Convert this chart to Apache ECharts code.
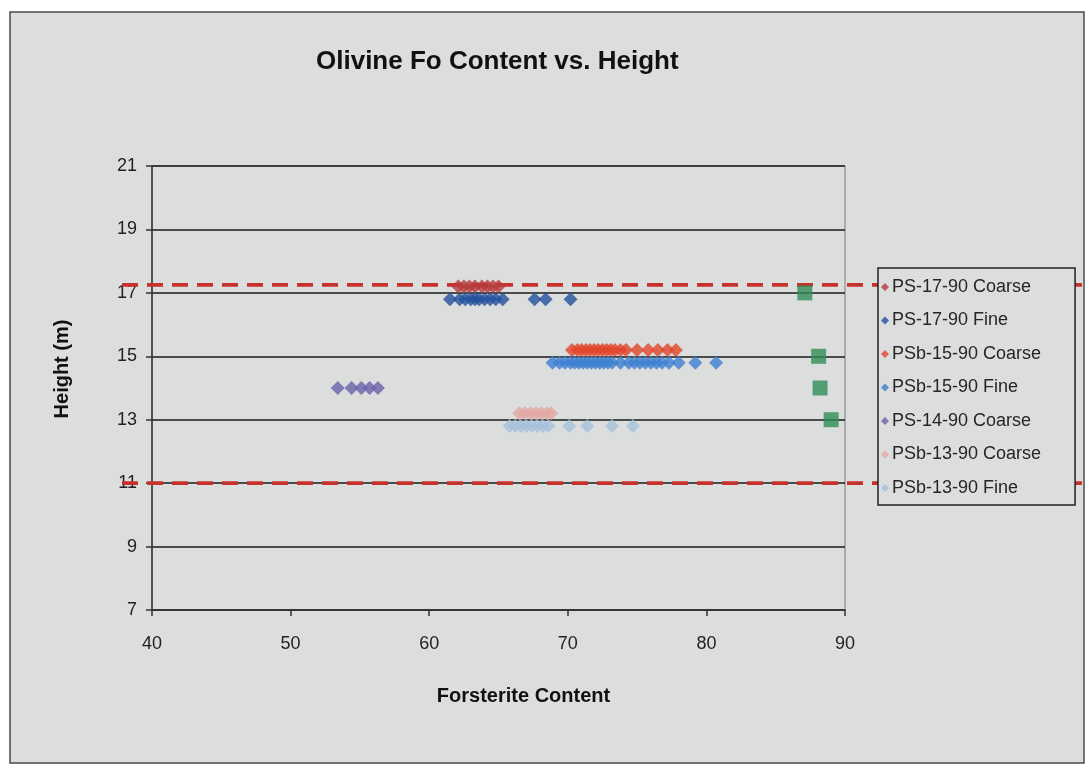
<!DOCTYPE html>
<html>
<head>
<meta charset="utf-8">
<title>Olivine Fo Content vs. Height</title>
<script src="https://cdn.jsdelivr.net/npm/echarts@6/dist/echarts.min.js"></script>
<style>
  html, body { margin: 0; padding: 0; background: #ffffff; }
  #chart { width: 1086px; height: 767px; }
</style>
</head>
<body>
<div id="chart"></div>
<script>
// Forsterite content (Fo) of olivine grains, grouped by sample and grain size.
const ps17CoarseFo = [62.1, 62.5, 62.9, 63.3, 63.8, 64.2, 64.6, 65.0];
const ps17CoarseH = 17.2;
const ps17FineFo = [61.5, 62.2, 62.6, 63.0, 63.3, 63.6, 64.0, 64.4, 64.8, 65.3, 67.6, 68.4, 70.2];
const ps17FineH = 16.8;
const psb15CoarseFo = [70.3, 70.7, 71.0, 71.3, 71.6, 71.9, 72.2, 72.5, 72.8, 73.1, 73.4, 73.8, 74.2, 75.0, 75.8, 76.5, 77.2, 77.8];
const psb15CoarseH = 15.2;
const psb15FineFo = [68.9, 69.4, 69.8, 70.2, 70.5, 70.8, 71.1, 71.4, 71.7, 72.0, 72.3, 72.6, 72.9, 73.2, 73.8, 74.4, 74.8, 75.2, 75.6, 76.0, 76.4, 76.8, 77.3, 78.0, 79.2, 80.7];
const psb15FineH = 14.8;
const ps14CoarseFo = [53.4, 54.4, 55.1, 55.7, 56.3];
const ps14CoarseH = 14.0;
const psb13CoarseFo = [66.5, 66.9, 67.3, 67.7, 68.1, 68.5, 68.8];
const psb13CoarseH = 13.2;
const psb13FineFo = [65.8, 66.2, 66.6, 67.0, 67.4, 67.8, 68.2, 68.6, 70.1, 71.4, 73.2, 74.7];
const psb13FineH = 12.8;

// Square markers on the right-hand side
const squareFo = [87.1, 88.1, 88.2, 89.0];
const squareH = [17.0, 15.0, 14.0, 13.0];

// Red dashed horizontal reference heights (m)
const refHeights = [17.25, 11.0];

// Axis ticks
const xTicks = { min: 40, max: 90, step: 10 };
const yTicks = { min: 7, max: 21, step: 2 };

const seriesDefs = [
  { name: 'PS-17-90 Coarse',  fo: ps17CoarseFo,  h: ps17CoarseH,  color: '#b83a3a' },
  { name: 'PS-17-90 Fine',    fo: ps17FineFo,    h: ps17FineH,    color: '#23509c' },
  { name: 'PSb-15-90 Coarse', fo: psb15CoarseFo, h: psb15CoarseH, color: '#e2452a' },
  { name: 'PSb-15-90 Fine',   fo: psb15FineFo,   h: psb15FineH,   color: '#3d7fd2' },
  { name: 'PS-14-90 Coarse',  fo: ps14CoarseFo,  h: ps14CoarseH,  color: '#6a60aa' },
  { name: 'PSb-13-90 Coarse', fo: psb13CoarseFo, h: psb13CoarseH, color: '#e2a6a2' },
  { name: 'PSb-13-90 Fine',   fo: psb13FineFo,   h: psb13FineH,   color: '#a6c0dc' }
];

const FONT = '"Liberation Sans", Arial, sans-serif';
const BG = '#dbdedd';

const chart = echarts.init(document.getElementById('chart'), null, { renderer: 'canvas' });

const series = seriesDefs.map(d => ({
  name: d.name,
  type: 'scatter',
  symbol: 'diamond',
  symbolSize: 14,
  itemStyle: { color: d.color },
  data: d.fo.map(v => [v, d.h]),
  z: 3
}));

series.push({
  name: 'Squares',
  type: 'scatter',
  symbol: 'rect',
  symbolSize: 15,
  itemStyle: { color: '#2f8c57' },
  data: squareFo.map((v, i) => [v, squareH[i]]),
  z: 3
});

chart.setOption({
  backgroundColor: 'transparent',
  animation: false,
  title: {
    text: 'Olivine Fo Content vs. Height',
    left: 311,
    top: 44,
    textStyle: { fontFamily: FONT, fontSize: 26, fontWeight: 'bold', color: '#111' }
  },
  legend: {
    orient: 'vertical',
    left: 878,
    top: 268,
    data: seriesDefs.map(d => d.name),
    icon: 'diamond',
    itemWidth: 8,
    itemHeight: 8,
    itemGap: 15.5,
    padding: [10, 34, 8, 3],
    backgroundColor: BG,
    borderColor: '#222',
    borderWidth: 1.5,
    textStyle: { fontFamily: FONT, fontSize: 18, color: '#262626', padding: [0, 0, 0, -2] },
    z: 10
  },
  grid: {
    left: 152, right: 241, top: 166, bottom: 157,
    show: true,
    backgroundColor: BG,
    borderColor: '#7a7a7a',
    borderWidth: 1
  },
  xAxis: {
    type: 'value',
    min: xTicks.min, max: xTicks.max, interval: xTicks.step,
    name: 'Forsterite Content',
    nameLocation: 'middle',
    nameGap: 76,
    nameTextStyle: { fontFamily: FONT, fontSize: 20, fontWeight: 'bold', color: '#111', padding: [0, 0, 0, 50] },
    axisLine: { lineStyle: { color: '#333', width: 1.5 } },
    axisTick: { show: true, inside: false, length: 6, lineStyle: { color: '#333', width: 1.5 } },
    axisLabel: { fontFamily: FONT, fontSize: 18, color: '#222', margin: 25 },
    splitLine: { show: false }
  },
  yAxis: {
    type: 'value',
    min: yTicks.min, max: yTicks.max, interval: yTicks.step,
    name: 'Height (m)',
    nameLocation: 'middle',
    nameGap: 80,
    nameRotate: 90,
    nameTextStyle: { fontFamily: FONT, fontSize: 20, fontWeight: 'bold', color: '#111', padding: [0, 0, 0, 38] },
    axisLine: { show: true, lineStyle: { color: '#333', width: 1.5 } },
    axisTick: { show: true, inside: false, length: 6, lineStyle: { color: '#333', width: 1.5 } },
    axisLabel: { fontFamily: FONT, fontSize: 18, color: '#222', margin: 15 },
    splitLine: { show: true, lineStyle: { color: '#1a1a1a', width: 1.5 } }
  },
  series: series
});

// Outer chart frame and the red dashed reference heights, which run past the plot area
function drawOverlays() {
  const elements = [
    {
      type: 'rect',
      shape: { x: 10, y: 12, width: 1074, height: 751 },
      style: { fill: BG, stroke: '#4a4a4a', lineWidth: 1.5 },
      z: -10,
      silent: true
    }
  ];
  refHeights.forEach(h => {
    const y = chart.convertToPixel({ yAxisIndex: 0 }, h);
    elements.push({
      type: 'line',
      shape: { x1: 122, y1: y, x2: 1082, y2: y },
      style: { stroke: '#c8322c', lineWidth: 3.8, lineDash: [16, 9] },
      z: 2,
      silent: true
    });
  });
  chart.setOption({ graphic: { elements: elements } });
}
drawOverlays();
</script>
</body>
</html>
